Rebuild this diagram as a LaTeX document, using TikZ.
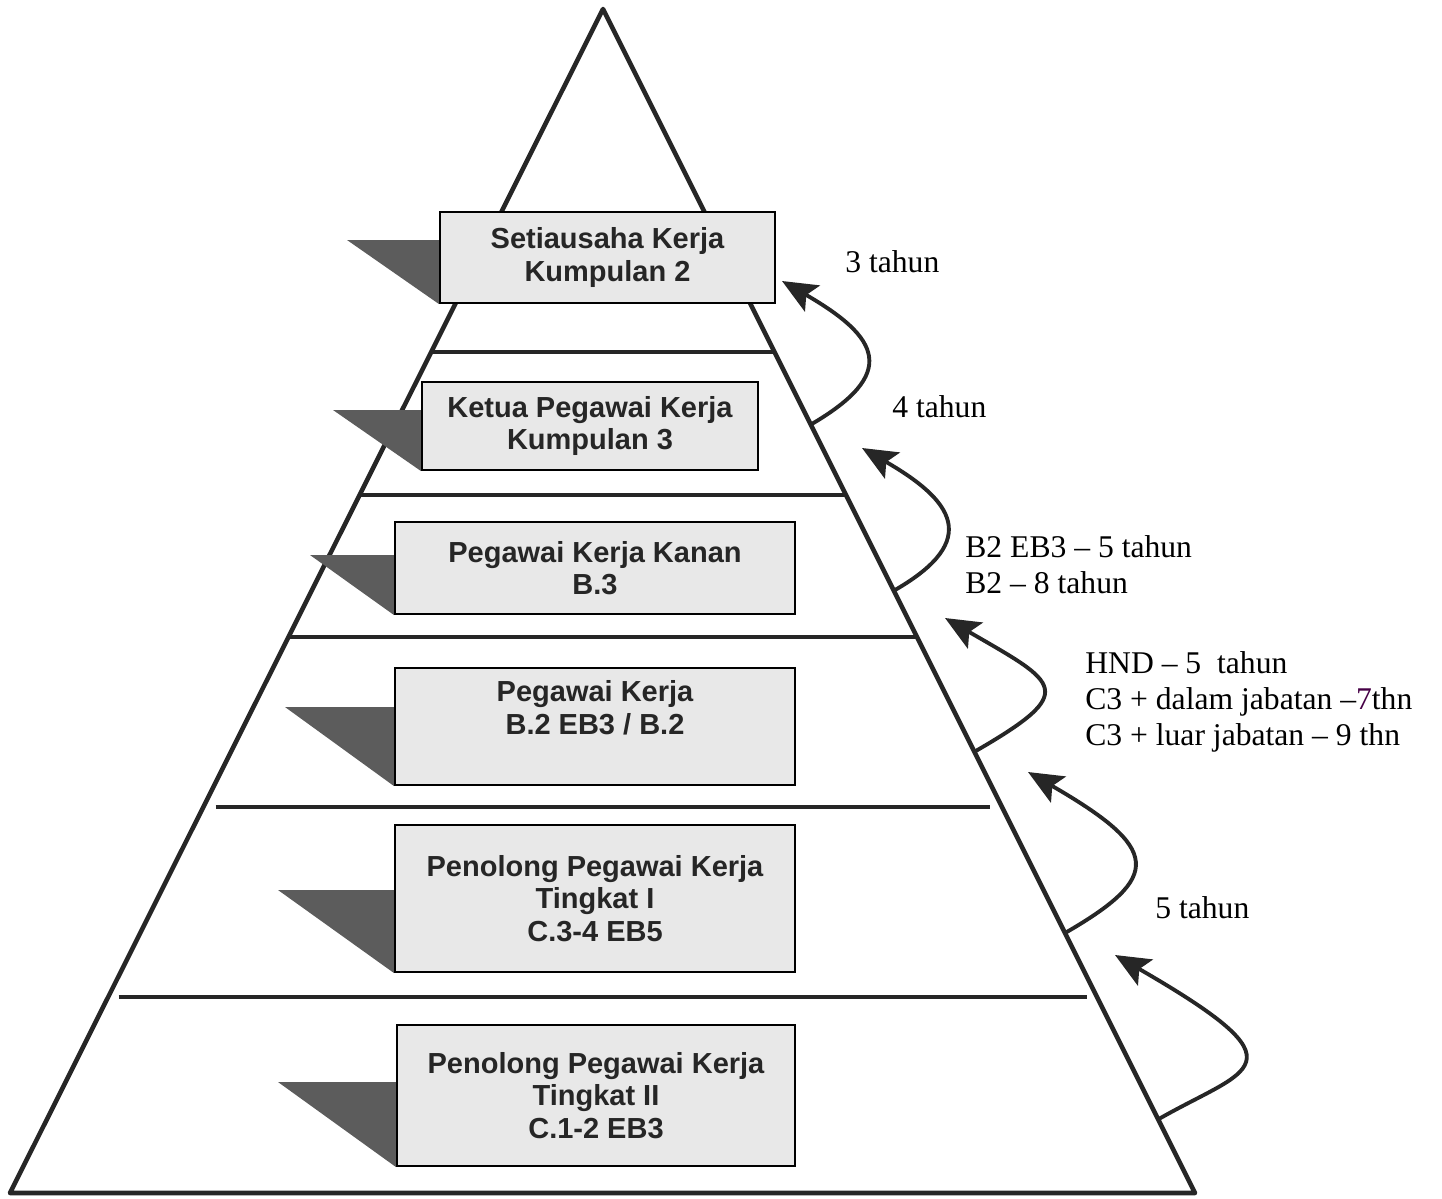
\documentclass[tikz,border=0pt]{standalone}
\usepackage{fontspec}
\setmainfont{Liberation Serif}
\setsansfont{Liberation Sans}
\usetikzlibrary{positioning}
\usetikzlibrary{calc}
\usetikzlibrary{arrows.meta}
\tikzset{
    mybox/.style = {rectangle, draw=black, line width=1.2pt, fill=gray!18, align=center, inner sep=0pt, font=\sffamily\bfseries\fontsize{16.5}{18.5}\selectfont, text=black!85},
    myshade/.style = {fill=black!64},
    edgep/.style = {-,line width=2.6pt,black!85,line join=round}, % pyramid
    edgeb/.style = {-,line width=2.4pt,black!85}, % bands
    edgea/.style = {-{Stealth[length=7mm,width=6mm,inset=1.4mm]},line width=2.2pt,black!85}, % promotion
    mylabel/.style = {anchor=west, align=left, inner sep=0pt, font=\fontsize{18}{20.5}\selectfont}
}

\begin{document}
\begin{tikzpicture}[x=0.02cm, y=-0.02cm]
  \useasboundingbox (0,0) rectangle (1442,1198);

  \coordinate (top) at (603,9);
  \coordinate (bl) at (10,1193);
  \coordinate (br) at (1195,1193);

  % bands
  \foreach \t/\g in {0.2897/0pt, 0.4105/0pt, 0.5304/0pt, 0.674/7pt, 0.8345/6pt}
    \draw[edgeb, shorten <=\g, shorten >=\g] ($(top)!\t!(bl)$) -- ($(top)!\t!(br)$);
  \draw[edgep] (bl) -- (top) -- (br) -- cycle;

  % posts
  \node[mybox, minimum width=6.7cm, minimum height=1.82cm] (b1) at (607.5,257.5) {Setiausaha Kerja\\Kumpulan 2};
  \node[mybox, minimum width=6.72cm, minimum height=1.76cm] (b2) at (590,426) {Ketua Pegawai Kerja\\Kumpulan 3};
  \node[mybox, minimum width=8cm, minimum height=1.84cm] (b3) at (595,568) {Pegawai Kerja Kanan\\B.3};
  \node[mybox, minimum width=8cm, minimum height=2.34cm] (b4) at (595,726.5) {Pegawai Kerja\\B.2 EB3 / B.2\\\rule{0pt}{0.72cm}};
  \node[mybox, minimum width=8cm, minimum height=2.94cm] (b5) at (595,898.5) {Penolong Pegawai Kerja\\Tingkat I\\C.3-4 EB5};
  \node[mybox, minimum width=7.96cm, minimum height=2.82cm] (b6) at (596,1095.5) {Penolong Pegawai Kerja\\Tingkat II\\C.1-2 EB3};

  % shadows
  \foreach \b/\tx/\ty in {b1/347/240, b2/333/410, b3/310/555, b4/285/707, b5/278/890, b6/278/1082}
    \fill[myshade] (\tx,\ty) -- (\b.west |- 0,\ty) -- (\b.south west) -- cycle;

  % arrows
  \coordinate (s1) at (810,425);   \coordinate (t1) at (782,281);
  \coordinate (s2) at (895,590);   \coordinate (t2) at (862,448);
  \coordinate (s3) at (974,752);   \coordinate (t3) at (945,618);
  \coordinate (s4) at (1065,933);  \coordinate (t4) at (1028,772);
  \coordinate (s5) at (1157,1120); \coordinate (t5) at (1115,955);
  \draw[edgea] (s1) .. controls +(89,-51.5) and +(98,56.5) .. (t1);
  \draw[edgea] (s2) .. controls +(86.6,-50) and +(91,52.5) .. (t2);
  \draw[edgea] (s3) .. controls +(105.7,-61) and +(114,66) .. (t3);
  \draw[edgea] (s4) .. controls +(98,-56.5) and +(132.5,76.5) .. (t4);
  \draw[edgea] (s5) .. controls +(91,-52.5) and +(195,112.5) .. (t5);

  % periods
  \node[mylabel] (l1) at (845,262) {3 tahun};
  \node[mylabel] (l2) at (892,407) {4 tahun};
  \node[mylabel] (l3) at (965,565) {B2 EB3 -- 5 tahun\\B2 -- 8 tahun};
  \node[mylabel] (l4) at (1085,702) {HND -- 5~~tahun\\C3 + dalam jabatan --{\color{violet!55!black}7}thn\\C3 + luar jabatan -- 9 thn};
  \node[mylabel] (l5) at (1155,908) {5 tahun};

\end{tikzpicture}
\end{document}
